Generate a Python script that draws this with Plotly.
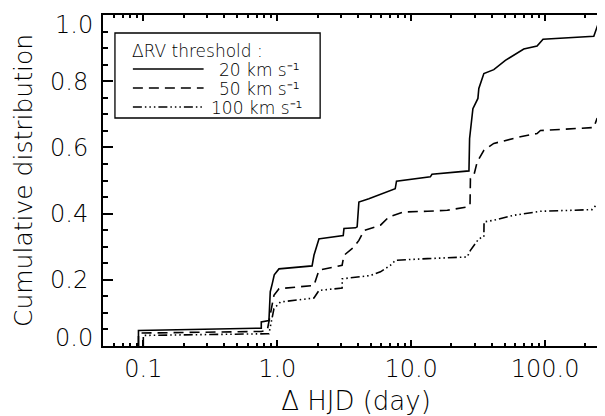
import plotly.graph_objects as go

# ---- data ----
hjd_20 = [0.092, 0.092, 0.76, 0.76, 0.867, 0.887, 0.92, 0.95, 1.03, 1.82, 1.88, 2.05, 2.08, 3.11, 3.15,
          3.84, 3.95, 4.07, 4.83, 7.01, 7.6, 7.77, 13.9, 14.3, 27.0, 27.3, 28.0, 28.9, 31.5, 32.0, 34.9,
          41.4, 50.5, 58.4, 69.3, 87.1, 96.5, 231, 247, 259, 290, 300]
cum_20 = [0.0, 0.047, 0.054, 0.073, 0.077, 0.164, 0.19, 0.215, 0.233, 0.242, 0.274, 0.324, 0.324, 0.334, 0.355,
          0.357, 0.36, 0.435, 0.445, 0.470, 0.475, 0.498, 0.511, 0.519, 0.529, 0.627, 0.677, 0.717, 0.748, 0.778, 0.823,
          0.835, 0.863, 0.878, 0.897, 0.906, 0.927, 0.936, 0.969, 0.974, 0.985, 1.0]

hjd_50 = [0.092, 0.092, 0.76, 0.842, 0.945, 1.03, 1.88, 2.05, 3.05, 3.15, 3.74, 4.07, 4.44, 5.90, 6.82,
          8.82, 13.2, 18.6, 26.2, 27.5, 27.7, 29.4, 31.1, 34.9, 41.4, 65.4, 87.1, 92.3, 231, 244, 300]
cum_50 = [0.0, 0.039, 0.044, 0.047, 0.153, 0.173, 0.183, 0.229, 0.244, 0.274, 0.299, 0.319, 0.349, 0.365, 0.390,
          0.405, 0.407, 0.41, 0.420, 0.425, 0.506, 0.516, 0.556, 0.591, 0.612, 0.632, 0.642, 0.651, 0.660, 0.687, 0.70]

hjd_100 = [0.1, 0.1, 0.842, 0.867, 0.945, 1.058, 1.88, 2.05, 3.05, 3.06, 4.97, 5.90, 7.01, 7.64, 13.2,
           26.2, 27.7, 32.0, 34.9, 35.0, 41.4, 58.4, 92.3, 224, 259, 300]
cum_100 = [0.0, 0.032, 0.037, 0.037, 0.113, 0.133, 0.145, 0.168, 0.175, 0.203, 0.213, 0.224, 0.244, 0.259, 0.264,
           0.269, 0.289, 0.324, 0.330, 0.375, 0.380, 0.395, 0.407, 0.412, 0.440, 0.455]

x_tickvals = [0.1, 1, 10, 100]
x_ticktext = ["0.1", "1.0", "10.0", "100.0"]
x_minor = [0.05, 0.06, 0.07, 0.08, 0.09, 0.2, 0.3, 0.4, 0.5, 0.6, 0.7, 0.8, 0.9,
           2, 3, 4, 5, 6, 7, 8, 9, 20, 30, 40, 50, 60, 70, 80, 90, 200, 300]
y_tickvals = [0.2, 0.4, 0.6, 0.8]
y_ticktext = ["0.2", "0.4", "0.6", "0.8"]
y_end_vals = [0.0, 1.0]
y_end_text = ["0.0", "1.0"]
y_minor = [0.05, 0.1, 0.15, 0.25, 0.3, 0.35, 0.45, 0.5, 0.55, 0.65, 0.7, 0.75, 0.85, 0.9, 0.95]

legend_title = "ΔRV threshold :"
legend_labels = ["20 km s⁻¹", "50 km s⁻¹", "100 km s⁻¹"]
dashes = ["solid", "10px,6px", "9px,3px,1.5px,3px,1.5px,3px,1.5px,3px"]

FONT = "DejaVu Sans"
FW = 200
TICK_SIZE = 24
L, R, T, B = 95, 2, 7, 78
W, H = 605, 416
pw, ph = W - L - R, H - T - B

def px(xp):
    return (xp - L) / pw

def py(yp):
    return (H - B - yp) / ph

fig = go.Figure()
series = [(hjd_20, cum_20), (hjd_50, cum_50), (hjd_100, cum_100)]
for (xs, ys), d, name in zip(series, dashes, legend_labels):
    fig.add_trace(go.Scatter(x=xs, y=ys, mode="lines", name=name, showlegend=False,
                             line=dict(color="black", width=1.6, dash=d)))

# end labels of the y axis, nudged inward as in the reference
for v, t in zip(y_end_vals, y_end_text):
    shift = -10 if v == 1.0 else 8
    fig.add_annotation(x=0, xref="paper", y=v, yref="y", text=t, showarrow=False,
                       xanchor="right", yanchor="middle", xshift=-8, yshift=shift,
                       font=dict(family=FONT, size=TICK_SIZE, color="black", weight=FW))

# legend (drawn by hand)
fig.add_shape(type="rect", xref="paper", yref="paper", x0=px(107), x1=px(313), y0=py(110), y1=py(25),
              line=dict(color="black", width=1.3))
fig.add_annotation(x=px(122), y=py(43), xref="paper", yref="paper", text=legend_title, showarrow=False,
                   xanchor="left", yanchor="middle",
                   font=dict(family=FONT, size=17, color="black", weight=FW))
rows = [61, 80, 99]
text_left = [209, 209, 201]
for d, lab, yr, xl in zip(dashes, legend_labels, rows, text_left):
    fig.add_shape(type="line", xref="paper", yref="paper", x0=px(125), x1=px(196), y0=py(yr), y1=py(yr),
                  line=dict(color="black", width=1.3, dash=d))
    fig.add_annotation(x=px(xl), y=py(yr + 1), xref="paper", yref="paper", text=lab, showarrow=False,
                       xanchor="left", yanchor="middle",
                       font=dict(family=FONT, size=17, color="black", weight=FW))

fig.update_layout(
    width=W, height=H,
    margin=dict(l=L, r=R, t=T, b=B),
    paper_bgcolor="white", plot_bgcolor="white",
    font=dict(family=FONT, size=TICK_SIZE, color="black", weight=FW),
    showlegend=False,
    xaxis=dict(type="log", range=[-1.30103, 2.4771], tickvals=x_tickvals, ticktext=x_ticktext,
               tickfont=dict(family=FONT, size=TICK_SIZE, weight=FW),
               ticks="inside", ticklen=6, tickwidth=1.5, tickcolor="black",
               minor=dict(tickvals=x_minor, ticks="inside", ticklen=3, tickwidth=1.5, tickcolor="black"),
               showline=True, linecolor="black", linewidth=2, mirror="ticks",
               showgrid=False, zeroline=False, ticklabelstandoff=0,
               title=dict(text="Δ HJD (day)", font=dict(family=FONT, size=26, weight=FW), standoff=10)),
    yaxis=dict(range=[0, 1.0], tickvals=y_tickvals, ticktext=y_ticktext,
               tickfont=dict(family=FONT, size=TICK_SIZE, weight=FW),
               ticks="inside", ticklen=10, tickwidth=1.5, tickcolor="black",
               minor=dict(tickvals=y_minor, ticks="inside", ticklen=5, tickwidth=1.5, tickcolor="black"),
               showline=True, linecolor="black", linewidth=2, mirror="ticks",
               showgrid=False, zeroline=False, ticklabelstandoff=8,
               title=dict(text="Cumulative distribution", font=dict(family=FONT, size=25, weight=FW),
                          standoff=10)),
)

fig.write_html("out.html")
